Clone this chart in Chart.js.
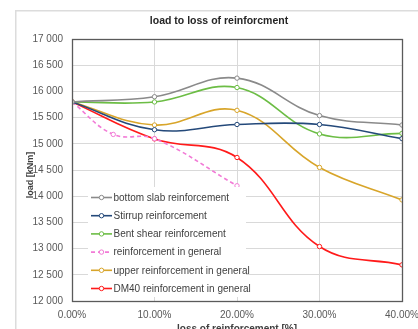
<!DOCTYPE html>
<html>
<head>
<meta charset="utf-8">
<style>
  html, body { margin: 0; padding: 0; background: #ffffff; overflow: hidden; }
  #wrap { position: relative; width: 418px; height: 329px; overflow: hidden; }
  canvas { display: block; }
</style>
<script src="https://cdn.jsdelivr.net/npm/chart.js@4.4.1/dist/chart.umd.min.js"></script>
</head>
<body>
<div id="wrap"><canvas id="c" width="418" height="337"></canvas></div>
<script>
// Loss of reinforcement [%] and resulting load [kNm] per reinforcement group
const lossMain = [0, 10, 20, 30, 40];
const lossGeneral = [0, 5, 10, 20];

const bottomSlab = [15800, 15900, 16255, 15540, 15360];
const stirrup    = [15800, 15270, 15370, 15370, 15100];
const bentShear  = [15800, 15800, 16075, 15190, 15200];
const general    = [15800, 15180, 15100, 14200];
const upper      = [15800, 15360, 15640, 14550, 13930];
const dm40       = [15800, 15095, 14740, 13040, 12690];

const seriesNames = [
  'bottom slab reinforcement',
  'Stirrup reinforcement',
  'Bent shear reinforcement',
  'reinforcement in general',
  'upper reinforcement in general',
  'DM40 reinforcement in general'
];
const seriesColors = ['#8a8a8a', '#24497a', '#6cbd45', '#f27ad6', '#d8a52a', '#ff1a1a'];

const yTicks = [12000, 17000];
const xTicks = [0, 40];

function pts(xs, ys) { return xs.map((x, i) => ({ x: x, y: ys[i] })); }

function mkSet(i, xs, ys, dash) {
  return {
    label: seriesNames[i],
    data: pts(xs, ys),
    borderColor: seriesColors[i],
    backgroundColor: '#ffffff',
    pointBorderColor: seriesColors[i],
    pointBackgroundColor: '#ffffff',
    pointRadius: 2.2,
    pointBorderWidth: 1,
    borderWidth: 1.6,
    borderDash: dash || [],
    tension: 0.4,
    fill: false
  };
}

const datasets = [
  mkSet(0, lossMain, bottomSlab),
  mkSet(1, lossMain, stirrup),
  mkSet(2, lossMain, bentShear),
  mkSet(3, lossGeneral, general, [4, 3]),
  mkSet(4, lossMain, upper),
  mkSet(5, lossMain, dm40)
];

// Outer chart frame (left and top edges) and plot area border
const framePlugin = {
  id: 'frame',
  beforeDraw(chart) {
    const ctx = chart.ctx;
    ctx.save();
    ctx.fillStyle = '#dcdcdc';
    ctx.fillRect(15, 10, 1.5, 330);
    ctx.fillRect(15, 10, 403, 1.5);
    ctx.restore();
  },
  afterDraw(chart) {
    const a = chart.chartArea;
    const ctx = chart.ctx;
    ctx.save();
    ctx.strokeStyle = '#5a5a5a';
    ctx.lineWidth = 1.3;
    ctx.strokeRect(Math.round(a.left) + 0.5, Math.round(a.top) + 0.5,
                   Math.round(a.right - a.left), Math.round(a.bottom - a.top));
    ctx.restore();
  }
};

// Legend box placed inside the plot area, lower left
const insideLegend = {
  id: 'insideLegend',
  afterDraw(chart) {
    const ctx = chart.ctx;
    const bx = 88, by = 187, bw = 158, bh = 110;
    ctx.save();
    ctx.fillStyle = '#ffffff';
    ctx.fillRect(bx, by, bw, bh);
    ctx.font = '10px "Liberation Sans", Arial, sans-serif';
    ctx.textBaseline = 'middle';
    chart.data.datasets.forEach((ds, i) => {
      const y = 197.5 + i * 18.2;
      ctx.strokeStyle = ds.borderColor;
      ctx.lineWidth = 1.6;
      ctx.setLineDash(ds.borderDash && ds.borderDash.length ? [4, 3] : []);
      ctx.beginPath();
      ctx.moveTo(91, y);
      ctx.lineTo(112, y);
      ctx.stroke();
      ctx.setLineDash([]);
      ctx.beginPath();
      ctx.arc(101.5, y, 2.2, 0, Math.PI * 2);
      ctx.fillStyle = '#ffffff';
      ctx.fill();
      ctx.lineWidth = 1;
      ctx.stroke();
      ctx.fillStyle = '#404040';
      ctx.fillText(ds.label, 113.5, y + 0.5);
    });
    ctx.restore();
  }
};

const fmtThousands = v => {
  const s = Math.round(v).toString();
  return s.replace(/\B(?=(\d{3})+(?!\d))/g, ' ');
};

new Chart(document.getElementById('c'), {
  type: 'line',
  data: { datasets: datasets },
  plugins: [framePlugin, insideLegend],
  options: {
    responsive: false,
    animation: false,
    layout: { padding: { left: 20, right: 0, top: 0, bottom: 0 } },
    plugins: {
      legend: { display: false },
      tooltip: { enabled: false },
      title: {
        display: true,
        text: 'load to loss of reinforcment',
        color: '#262626',
        font: { family: '"Liberation Sans", Arial, sans-serif', size: 10.5, weight: 'bold' },
        padding: { top: 15, bottom: 11.5 }
      }
    },
    scales: {
      x: {
        type: 'linear',
        min: xTicks[0],
        max: xTicks[1],
        ticks: {
          stepSize: 10,
          padding: 8,
          color: '#595959',
          font: { family: '"Liberation Sans", Arial, sans-serif', size: 10 },
          callback: v => v.toFixed(2) + '%'
        },
        grid: { color: '#d9d9d9', drawTicks: false },
        border: { display: false },
        title: {
          display: true,
          text: 'loss of reinforcement [%]',
          color: '#404040',
          font: { family: '"Liberation Sans", Arial, sans-serif', size: 10, weight: 'bold' },
          padding: { top: 0, bottom: 2 }
        },
        afterFit(scale) {
          scale.height = 337 - 301;
          scale.paddingRight = 16;
          scale.paddingLeft = 0;
        }
      },
      y: {
        min: yTicks[0],
        max: yTicks[1],
        ticks: {
          stepSize: 500,
          padding: 9,
          color: '#595959',
          font: { family: '"Liberation Sans", Arial, sans-serif', size: 10 },
          callback: v => fmtThousands(v)
        },
        grid: { color: '#d9d9d9', drawTicks: false },
        border: { display: false },
        title: {
          display: true,
          text: 'load [kNm]\u00a0\u00a0\u00a0\u00a0',
          color: '#404040',
          font: { family: '"Liberation Sans", Arial, sans-serif', size: 9, weight: 'bold' },
          padding: { top: 5, bottom: 0 }
        },
        afterFit(scale) { scale.width = 52; }
      }
    }
  }
});
</script>
</body>
</html>
